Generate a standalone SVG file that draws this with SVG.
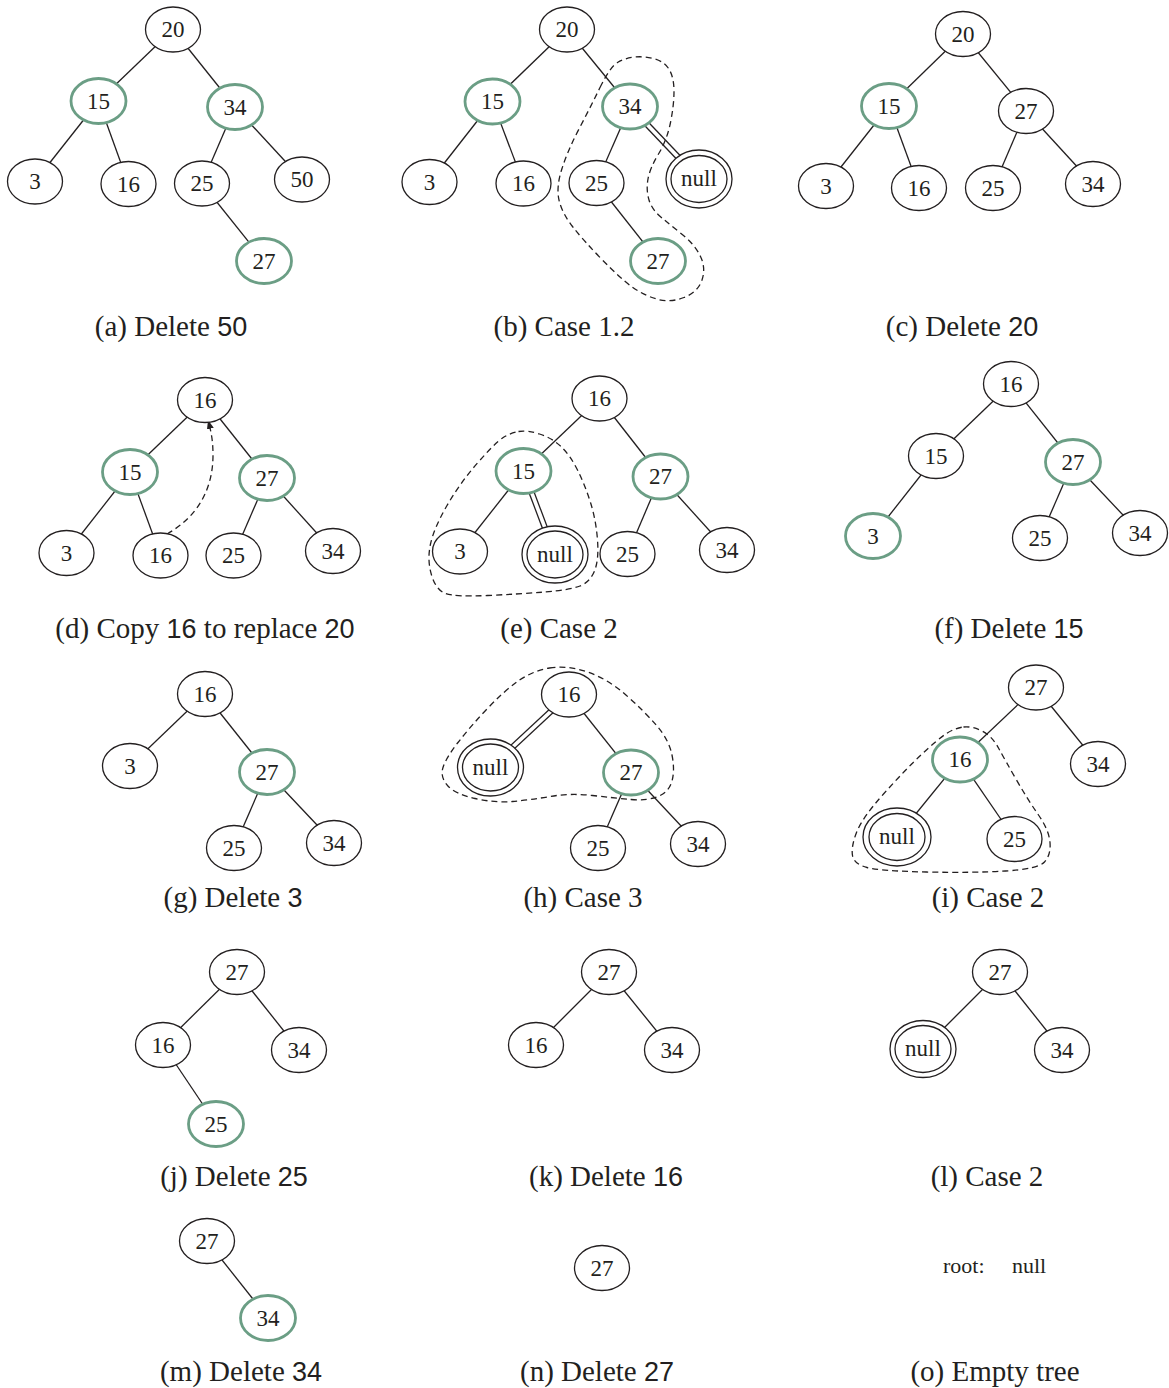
<svg xmlns="http://www.w3.org/2000/svg" width="1169" height="1388" viewBox="0 0 1169 1388">
<style>
.bg{fill:#ffffff}
.n{fill:#ffffff;stroke:#231f20;stroke-width:1.3}
.g{fill:#ffffff;stroke:#6b9e85;stroke-width:2.8}
.e{stroke:#231f20;stroke-width:1.3;fill:none}
.d{stroke:#231f20;stroke-width:1.3;fill:none;stroke-dasharray:6 4}
.t{font-family:"Liberation Serif","Times New Roman",serif;font-size:23px;fill:#231f20;text-anchor:middle}
.tl{font-family:"Liberation Serif","Times New Roman",serif;font-size:22px;fill:#231f20}
.cap{font-family:"Liberation Serif","Times New Roman",serif;font-size:29px;fill:#231f20;text-anchor:middle}
.s{font-family:"Liberation Sans",Arial,sans-serif;font-size:27px}
</style>
<defs>
<marker id="arr" markerWidth="9" markerHeight="7" refX="9" refY="3.5" orient="auto" markerUnits="userSpaceOnUse">
<path d="M0,0 L9,3.5 L0,7 Z" fill="#231f20"/>
</marker>
</defs>
<rect class="bg" x="0" y="0" width="1169" height="1388"/>

<g id="connectors">
<!-- a -->
<line class="e" x1="173" y1="29.5" x2="98.5" y2="101"/>
<line class="e" x1="173" y1="29.5" x2="235" y2="107"/>
<line class="e" x1="98.5" y1="101" x2="35" y2="181.5"/>
<line class="e" x1="98.5" y1="101" x2="128.5" y2="184"/>
<line class="e" x1="235" y1="107" x2="202" y2="183.5"/>
<line class="e" x1="235" y1="107" x2="302" y2="179.5"/>
<line class="e" x1="202" y1="183.5" x2="264" y2="261"/>
<!-- b -->
<line class="e" x1="567" y1="29.5" x2="492.5" y2="101.5"/>
<line class="e" x1="567" y1="29.5" x2="630" y2="106.5"/>
<line class="e" x1="492.5" y1="101.5" x2="429.5" y2="182"/>
<line class="e" x1="492.5" y1="101.5" x2="523.5" y2="183.5"/>
<line class="e" x1="630" y1="106.5" x2="596.5" y2="183"/>
<line class="e" x1="596.5" y1="183" x2="658" y2="261"/>
<line class="e" x1="628.2" y1="108.2" x2="697.2" y2="180.7"/>
<line class="e" x1="631.8" y1="104.8" x2="700.8" y2="177.3"/>
<!-- c -->
<line class="e" x1="963" y1="34" x2="889" y2="106"/>
<line class="e" x1="963" y1="34" x2="1026" y2="111"/>
<line class="e" x1="889" y1="106" x2="826" y2="186"/>
<line class="e" x1="889" y1="106" x2="919" y2="188"/>
<line class="e" x1="1026" y1="111" x2="993" y2="188"/>
<line class="e" x1="1026" y1="111" x2="1093" y2="184"/>
<!-- d -->
<line class="e" x1="205" y1="400" x2="130" y2="472"/>
<line class="e" x1="205" y1="400" x2="267" y2="478"/>
<line class="e" x1="130" y1="472" x2="66.5" y2="553"/>
<line class="e" x1="130" y1="472" x2="160.5" y2="555.5"/>
<line class="e" x1="267" y1="478" x2="233.5" y2="555.5"/>
<line class="e" x1="267" y1="478" x2="333" y2="551"/>
<!-- e -->
<line class="e" x1="599.5" y1="398.5" x2="523.5" y2="471"/>
<line class="e" x1="599.5" y1="398.5" x2="660.5" y2="476.5"/>
<line class="e" x1="523.5" y1="471" x2="460" y2="551.5"/>
<line class="e" x1="521.2" y1="471.9" x2="552.7" y2="555.4"/>
<line class="e" x1="525.8" y1="470.1" x2="557.3" y2="553.6"/>
<line class="e" x1="660.5" y1="476.5" x2="627.5" y2="554"/>
<line class="e" x1="660.5" y1="476.5" x2="727" y2="550"/>
<!-- f -->
<line class="e" x1="1011" y1="384" x2="936" y2="456"/>
<line class="e" x1="1011" y1="384" x2="1073" y2="462"/>
<line class="e" x1="936" y1="456" x2="873" y2="536"/>
<line class="e" x1="1073" y1="462" x2="1040" y2="538"/>
<line class="e" x1="1073" y1="462" x2="1140" y2="533"/>
<!-- g -->
<line class="e" x1="205" y1="694" x2="130" y2="766"/>
<line class="e" x1="205" y1="694" x2="267" y2="772"/>
<line class="e" x1="267" y1="772" x2="234" y2="848"/>
<line class="e" x1="267" y1="772" x2="334" y2="843"/>
<!-- h -->
<line class="e" x1="567.3" y1="692.7" x2="488.8" y2="765.7"/>
<line class="e" x1="570.7" y1="696.3" x2="492.2" y2="769.3"/>
<line class="e" x1="569" y1="694.5" x2="631" y2="772.5"/>
<line class="e" x1="631" y1="772.5" x2="598" y2="848"/>
<line class="e" x1="631" y1="772.5" x2="698" y2="844"/>
<!-- i -->
<line class="e" x1="1036" y1="687.5" x2="960" y2="759.5"/>
<line class="e" x1="1036" y1="687.5" x2="1098" y2="764"/>
<line class="e" x1="960" y1="759.5" x2="897" y2="837"/>
<line class="e" x1="960" y1="759.5" x2="1014.5" y2="839"/>
<!-- j -->
<line class="e" x1="237" y1="972" x2="163" y2="1045"/>
<line class="e" x1="237" y1="972" x2="299" y2="1050"/>
<line class="e" x1="163" y1="1045" x2="216" y2="1124"/>
<!-- k -->
<line class="e" x1="609" y1="972" x2="536" y2="1045"/>
<line class="e" x1="609" y1="972" x2="672" y2="1050"/>
<!-- l -->
<line class="e" x1="1000" y1="972" x2="923" y2="1049"/>
<line class="e" x1="1000" y1="972" x2="1062" y2="1050"/>
<!-- m -->
<line class="e" x1="207" y1="1241" x2="268" y2="1318"/>
</g>

<g id="outlines">
<path class="d" d="M600,87.5 Q610,67 617.5,62.5 Q625,58 635,57 Q645,56 655,59 Q665,62 669.5,70 Q674,78 674,91.5 Q674,105 670.5,122.5 Q667,140 658.5,154 Q650,168 648,179 Q646,190 649,200 Q652,210 662,218 Q672,226 683.5,235.5 Q695,245 700.5,256.5 Q706,268 702,280 Q698,292 684,297.5 Q670,303 656.5,299 Q643,295 631.5,286.5 Q620,278 601.5,259 Q583,240 572.5,226.5 Q562,213 559,200 Q556,187 562,168.5 Q568,150 579,129 Q590,108 600,87.5 Z"/>
<path class="d" d="M518.5,431.5 Q527,430 539.5,434 Q552,438 561,446.5 Q570,455 577.5,470 Q585,485 590.5,502.5 Q596,520 597.5,540 Q599,560 594.5,571 Q590,582 580,586 Q570,590 545,592 Q520,594 487.5,595.5 Q455,597 445.5,593.5 Q436,590 431.5,575 Q427,560 430.5,544 Q434,528 447,505.5 Q460,483 477.5,463 Q495,443 502.5,438 Q510,433 518.5,431.5 Z"/>
<path class="d" d="M549.5,668 Q567,665 587.5,672 Q608,679 626.5,695.5 Q645,712 657,726 Q669,740 672,755 Q675,770 672,781 Q669,792 658,796.5 Q647,801 631,799.5 Q615,798 592.5,795.5 Q570,793 550,796.5 Q530,800 512.5,801.5 Q495,803 475,798.5 Q455,794 447.5,785.5 Q440,777 443,767.5 Q446,758 458,742.5 Q470,727 486.5,709.5 Q503,692 517.5,681.5 Q532,671 549.5,668 Z"/>
<path class="d" d="M963.5,727 Q972,726 982,731 Q992,736 998.5,748 Q1005,760 1016.5,780 Q1028,800 1038.5,815 Q1049,830 1050,842.5 Q1051,855 1044.5,862 Q1038,869 1005.5,871 Q973,873 926.5,872 Q880,871 867,867.5 Q854,864 852.5,855.5 Q851,847 856.5,832.5 Q862,818 883.5,794 Q905,770 921.5,754.5 Q938,739 946.5,733.5 Q955,728 963.5,727 Z"/>
<path class="d" d="M167,534 C197,517 213,490 213,455 C213,440 211,431 208,420" marker-end="url(#arr)"/>
</g>

<!-- panel a -->
<g id="a-20"><ellipse class="n" cx="173" cy="29.5" rx="27.5" ry="22.5"/><text class="t" x="173" y="37">20</text></g>
<g id="a-15"><ellipse class="g" cx="98.5" cy="101" rx="27.5" ry="22.5"/><text class="t" x="98.5" y="108.5">15</text></g>
<g id="a-34"><ellipse class="g" cx="235" cy="107" rx="27.5" ry="22.5"/><text class="t" x="235" y="114.5">34</text></g>
<g id="a-3"><ellipse class="n" cx="35" cy="181.5" rx="27.5" ry="22.5"/><text class="t" x="35" y="189">3</text></g>
<g id="a-16"><ellipse class="n" cx="128.5" cy="184" rx="27.5" ry="22.5"/><text class="t" x="128.5" y="191.5">16</text></g>
<g id="a-25"><ellipse class="n" cx="202" cy="183.5" rx="27.5" ry="22.5"/><text class="t" x="202" y="191">25</text></g>
<g id="a-50"><ellipse class="n" cx="302" cy="179.5" rx="27.5" ry="22.5"/><text class="t" x="302" y="187">50</text></g>
<g id="a-27"><ellipse class="g" cx="264" cy="261" rx="27.5" ry="22.5"/><text class="t" x="264" y="268.5">27</text></g>

<!-- panel b -->
<g id="b-20"><ellipse class="n" cx="567" cy="29.5" rx="27.5" ry="22.5"/><text class="t" x="567" y="37">20</text></g>
<g id="b-15"><ellipse class="g" cx="492.5" cy="101.5" rx="27.5" ry="22.5"/><text class="t" x="492.5" y="109">15</text></g>
<g id="b-34"><ellipse class="g" cx="630" cy="106.5" rx="27.5" ry="22.5"/><text class="t" x="630" y="114">34</text></g>
<g id="b-3"><ellipse class="n" cx="429.5" cy="182" rx="27.5" ry="22.5"/><text class="t" x="429.5" y="189.5">3</text></g>
<g id="b-16"><ellipse class="n" cx="523.5" cy="183.5" rx="27.5" ry="22.5"/><text class="t" x="523.5" y="191">16</text></g>
<g id="b-25"><ellipse class="n" cx="596.5" cy="183" rx="27.5" ry="22.5"/><text class="t" x="596.5" y="190.5">25</text></g>
<g id="b-null"><ellipse class="n" cx="699" cy="179" rx="33" ry="29"/><ellipse class="n" cx="699" cy="179" rx="28" ry="23.5"/><text class="t" x="699" y="186">null</text></g>
<g id="b-27"><ellipse class="g" cx="658" cy="261" rx="27.5" ry="22.5"/><text class="t" x="658" y="268.5">27</text></g>

<!-- panel c -->
<g id="c-20"><ellipse class="n" cx="963" cy="34" rx="27.5" ry="22.5"/><text class="t" x="963" y="41.5">20</text></g>
<g id="c-15"><ellipse class="g" cx="889" cy="106" rx="27.5" ry="22.5"/><text class="t" x="889" y="113.5">15</text></g>
<g id="c-27"><ellipse class="n" cx="1026" cy="111" rx="27.5" ry="22.5"/><text class="t" x="1026" y="118.5">27</text></g>
<g id="c-3"><ellipse class="n" cx="826" cy="186" rx="27.5" ry="22.5"/><text class="t" x="826" y="193.5">3</text></g>
<g id="c-16"><ellipse class="n" cx="919" cy="188" rx="27.5" ry="22.5"/><text class="t" x="919" y="195.5">16</text></g>
<g id="c-25"><ellipse class="n" cx="993" cy="188" rx="27.5" ry="22.5"/><text class="t" x="993" y="195.5">25</text></g>
<g id="c-34"><ellipse class="n" cx="1093" cy="184" rx="27.5" ry="22.5"/><text class="t" x="1093" y="191.5">34</text></g>

<!-- panel d -->
<g id="d-16-root"><ellipse class="n" cx="205" cy="400" rx="27.5" ry="22.5"/><text class="t" x="205" y="407.5">16</text></g>
<g id="d-15"><ellipse class="g" cx="130" cy="472" rx="27.5" ry="22.5"/><text class="t" x="130" y="479.5">15</text></g>
<g id="d-27"><ellipse class="g" cx="267" cy="478" rx="27.5" ry="22.5"/><text class="t" x="267" y="485.5">27</text></g>
<g id="d-3"><ellipse class="n" cx="66.5" cy="553" rx="27.5" ry="22.5"/><text class="t" x="66.5" y="560.5">3</text></g>
<g id="d-16"><ellipse class="n" cx="160.5" cy="555.5" rx="27.5" ry="22.5"/><text class="t" x="160.5" y="563">16</text></g>
<g id="d-25"><ellipse class="n" cx="233.5" cy="555.5" rx="27.5" ry="22.5"/><text class="t" x="233.5" y="563">25</text></g>
<g id="d-34"><ellipse class="n" cx="333" cy="551" rx="27.5" ry="22.5"/><text class="t" x="333" y="558.5">34</text></g>

<!-- panel e -->
<g id="e-16"><ellipse class="n" cx="599.5" cy="398.5" rx="27.5" ry="22.5"/><text class="t" x="599.5" y="406">16</text></g>
<g id="e-15"><ellipse class="g" cx="523.5" cy="471" rx="27.5" ry="22.5"/><text class="t" x="523.5" y="478.5">15</text></g>
<g id="e-27"><ellipse class="g" cx="660.5" cy="476.5" rx="27.5" ry="22.5"/><text class="t" x="660.5" y="484">27</text></g>
<g id="e-3"><ellipse class="n" cx="460" cy="551.5" rx="27.5" ry="22.5"/><text class="t" x="460" y="559">3</text></g>
<g id="e-null"><ellipse class="n" cx="555" cy="554.5" rx="33" ry="28.5"/><ellipse class="n" cx="555" cy="554.5" rx="28" ry="23.5"/><text class="t" x="555" y="561.5">null</text></g>
<g id="e-25"><ellipse class="n" cx="627.5" cy="554" rx="27.5" ry="22.5"/><text class="t" x="627.5" y="561.5">25</text></g>
<g id="e-34"><ellipse class="n" cx="727" cy="550" rx="27.5" ry="22.5"/><text class="t" x="727" y="557.5">34</text></g>

<!-- panel f -->
<g id="f-16"><ellipse class="n" cx="1011" cy="384" rx="27.5" ry="22.5"/><text class="t" x="1011" y="391.5">16</text></g>
<g id="f-15"><ellipse class="n" cx="936" cy="456" rx="27.5" ry="22.5"/><text class="t" x="936" y="463.5">15</text></g>
<g id="f-27"><ellipse class="g" cx="1073" cy="462" rx="27.5" ry="22.5"/><text class="t" x="1073" y="469.5">27</text></g>
<g id="f-3"><ellipse class="g" cx="873" cy="536" rx="27.5" ry="22.5"/><text class="t" x="873" y="543.5">3</text></g>
<g id="f-25"><ellipse class="n" cx="1040" cy="538" rx="27.5" ry="22.5"/><text class="t" x="1040" y="545.5">25</text></g>
<g id="f-34"><ellipse class="n" cx="1140" cy="533" rx="27.5" ry="22.5"/><text class="t" x="1140" y="540.5">34</text></g>

<!-- panel g -->
<g id="g-16"><ellipse class="n" cx="205" cy="694" rx="27.5" ry="22.5"/><text class="t" x="205" y="701.5">16</text></g>
<g id="g-3"><ellipse class="n" cx="130" cy="766" rx="27.5" ry="22.5"/><text class="t" x="130" y="773.5">3</text></g>
<g id="g-27"><ellipse class="g" cx="267" cy="772" rx="27.5" ry="22.5"/><text class="t" x="267" y="779.5">27</text></g>
<g id="g-25"><ellipse class="n" cx="234" cy="848" rx="27.5" ry="22.5"/><text class="t" x="234" y="855.5">25</text></g>
<g id="g-34"><ellipse class="n" cx="334" cy="843" rx="27.5" ry="22.5"/><text class="t" x="334" y="850.5">34</text></g>

<!-- panel h -->
<g id="h-16"><ellipse class="n" cx="569" cy="694.5" rx="27.5" ry="22.5"/><text class="t" x="569" y="702">16</text></g>
<g id="h-null"><ellipse class="n" cx="490.5" cy="767.5" rx="33" ry="28.5"/><ellipse class="n" cx="490.5" cy="767.5" rx="28" ry="23.5"/><text class="t" x="490.5" y="774.5">null</text></g>
<g id="h-27"><ellipse class="g" cx="631" cy="772.5" rx="27.5" ry="22.5"/><text class="t" x="631" y="780">27</text></g>
<g id="h-25"><ellipse class="n" cx="598" cy="848" rx="27.5" ry="22.5"/><text class="t" x="598" y="855.5">25</text></g>
<g id="h-34"><ellipse class="n" cx="698" cy="844" rx="27.5" ry="22.5"/><text class="t" x="698" y="851.5">34</text></g>

<!-- panel i -->
<g id="i-27"><ellipse class="n" cx="1036" cy="687.5" rx="27.5" ry="22.5"/><text class="t" x="1036" y="695">27</text></g>
<g id="i-16"><ellipse class="g" cx="960" cy="759.5" rx="27.5" ry="22.5"/><text class="t" x="960" y="767">16</text></g>
<g id="i-34"><ellipse class="n" cx="1098" cy="764" rx="27.5" ry="22.5"/><text class="t" x="1098" y="771.5">34</text></g>
<g id="i-null"><ellipse class="n" cx="897" cy="837" rx="34" ry="29"/><ellipse class="n" cx="897" cy="837" rx="28" ry="23.5"/><text class="t" x="897" y="844">null</text></g>
<g id="i-25"><ellipse class="n" cx="1014.5" cy="839" rx="27.5" ry="22.5"/><text class="t" x="1014.5" y="846.5">25</text></g>

<!-- panel j -->
<g id="j-27"><ellipse class="n" cx="237" cy="972" rx="27.5" ry="22.5"/><text class="t" x="237" y="979.5">27</text></g>
<g id="j-16"><ellipse class="n" cx="163" cy="1045" rx="27.5" ry="22.5"/><text class="t" x="163" y="1052.5">16</text></g>
<g id="j-34"><ellipse class="n" cx="299" cy="1050" rx="27.5" ry="22.5"/><text class="t" x="299" y="1057.5">34</text></g>
<g id="j-25"><ellipse class="g" cx="216" cy="1124" rx="27.5" ry="22.5"/><text class="t" x="216" y="1131.5">25</text></g>

<!-- panel k -->
<g id="k-27"><ellipse class="n" cx="609" cy="972" rx="27.5" ry="22.5"/><text class="t" x="609" y="979.5">27</text></g>
<g id="k-16"><ellipse class="n" cx="536" cy="1045" rx="27.5" ry="22.5"/><text class="t" x="536" y="1052.5">16</text></g>
<g id="k-34"><ellipse class="n" cx="672" cy="1050" rx="27.5" ry="22.5"/><text class="t" x="672" y="1057.5">34</text></g>

<!-- panel l -->
<g id="l-27"><ellipse class="n" cx="1000" cy="972" rx="27.5" ry="22.5"/><text class="t" x="1000" y="979.5">27</text></g>
<g id="l-null"><ellipse class="n" cx="923" cy="1049" rx="33" ry="28.5"/><ellipse class="n" cx="923" cy="1049" rx="28" ry="23.5"/><text class="t" x="923" y="1056">null</text></g>
<g id="l-34"><ellipse class="n" cx="1062" cy="1050" rx="27.5" ry="22.5"/><text class="t" x="1062" y="1057.5">34</text></g>

<!-- panel m -->
<g id="m-27"><ellipse class="n" cx="207" cy="1241" rx="27.5" ry="22.5"/><text class="t" x="207" y="1248.5">27</text></g>
<g id="m-34"><ellipse class="g" cx="268" cy="1318" rx="27.5" ry="22.5"/><text class="t" x="268" y="1325.5">34</text></g>

<!-- panel n -->
<g id="n-27"><ellipse class="n" cx="602" cy="1268" rx="27.5" ry="22.5"/><text class="t" x="602" y="1275.5">27</text></g>

<!-- panel o -->
<g id="o-root"><text class="tl" x="943" y="1273">root:</text><text class="tl" x="1012" y="1273">null</text></g>

<g id="captions">
<text class="cap" x="171" y="336">(a) Delete <tspan class="s">50</tspan></text>
<text class="cap" x="564" y="336">(b) Case 1.2</text>
<text class="cap" x="962" y="336">(c) Delete <tspan class="s">20</tspan></text>
<text class="cap" x="205" y="638">(d) Copy <tspan class="s">16</tspan> to replace <tspan class="s">20</tspan></text>
<text class="cap" x="559" y="638">(e) Case 2</text>
<text class="cap" x="1009" y="638">(f) Delete <tspan class="s">15</tspan></text>
<text class="cap" x="233" y="907">(g) Delete <tspan class="s">3</tspan></text>
<text class="cap" x="583" y="907">(h) Case 3</text>
<text class="cap" x="988" y="907">(i) Case 2</text>
<text class="cap" x="234" y="1186">(j) Delete <tspan class="s">25</tspan></text>
<text class="cap" x="606" y="1186">(k) Delete <tspan class="s">16</tspan></text>
<text class="cap" x="987" y="1186">(l) Case 2</text>
<text class="cap" x="241" y="1381">(m) Delete <tspan class="s">34</tspan></text>
<text class="cap" x="597" y="1381">(n) Delete <tspan class="s">27</tspan></text>
<text class="cap" x="995" y="1381">(o) Empty tree</text>
</g>
</svg>
